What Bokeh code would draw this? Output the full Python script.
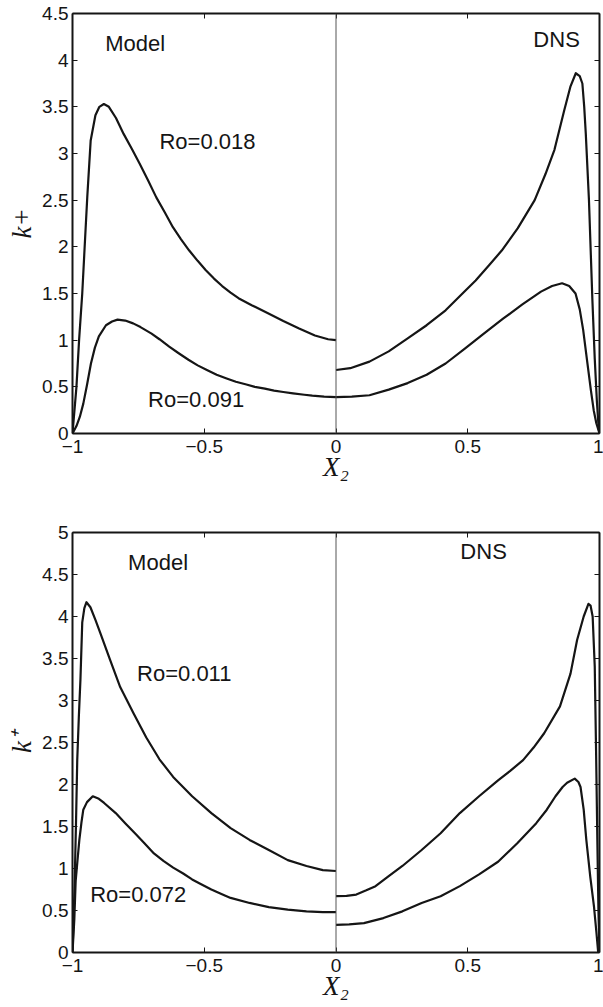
import math
from bokeh.plotting import figure
from bokeh.layouts import column
from bokeh.models import Range1d, LinearAxis, Span, Label, FixedTicker
from bokeh.embed import file_html
from bokeh.resources import INLINE

# ---------------- data: top panel ----------------
top_model_018_x = [-1.0, -0.985, -0.975, -0.963, -0.952, -0.944, -0.931, -0.913, -0.898, -0.881, -0.862, -0.835,
                   -0.806, -0.775, -0.745, -0.713, -0.682, -0.65, -0.619, -0.588, -0.557, -0.525, -0.494, -0.463,
                   -0.432, -0.40, -0.37, -0.32, -0.26, -0.20, -0.14, -0.08, -0.03, 0.0]
top_model_018_y = [0.0, 0.5, 1.0, 1.5, 2.1, 2.53, 3.14, 3.41, 3.50, 3.53, 3.50, 3.38,
                   3.21, 3.05, 2.89, 2.71, 2.53, 2.37, 2.21, 2.08, 1.96, 1.85, 1.75, 1.66,
                   1.58, 1.51, 1.45, 1.375, 1.29, 1.205, 1.125, 1.05, 1.01, 1.0]

top_model_091_x = [-1.0, -0.985, -0.972, -0.959, -0.945, -0.93, -0.915, -0.90, -0.873, -0.85, -0.829, -0.80,
                   -0.77, -0.742, -0.70, -0.67, -0.633, -0.597, -0.56, -0.525, -0.49, -0.453, -0.415, -0.38,
                   -0.34, -0.308, -0.27, -0.235, -0.2, -0.163, -0.12, -0.09, -0.045, 0.0]
top_model_091_y = [0.0, 0.08, 0.18, 0.32, 0.52, 0.75, 0.92, 1.04, 1.16, 1.20, 1.22, 1.21,
                   1.18, 1.14, 1.07, 1.01, 0.93, 0.86, 0.79, 0.73, 0.68, 0.63, 0.59, 0.555,
                   0.525, 0.50, 0.48, 0.46, 0.445, 0.43, 0.415, 0.405, 0.395, 0.39]

top_dns_018_x = [0.0, 0.054, 0.127, 0.2, 0.272, 0.344, 0.416, 0.48, 0.53, 0.58, 0.629, 0.69, 0.754, 0.795,
                 0.829, 0.866, 0.89, 0.91, 0.925, 0.935, 0.942, 0.948, 0.96, 0.973, 0.982, 0.99, 0.997, 1.0]
top_dns_018_y = [0.68, 0.70, 0.77, 0.88, 1.02, 1.16, 1.32, 1.50, 1.64, 1.80, 1.96, 2.2, 2.5, 2.78,
                 3.04, 3.46, 3.72, 3.86, 3.83, 3.75, 3.5, 3.21, 2.5, 1.43, 0.8, 0.35, 0.05, 0.0]

top_dns_091_x = [0.0, 0.06, 0.127, 0.2, 0.272, 0.344, 0.416, 0.489, 0.561, 0.634, 0.706, 0.778, 0.82, 0.858,
                 0.885, 0.909, 0.925, 0.938, 0.952, 0.967, 0.978, 0.988, 1.0]
top_dns_091_y = [0.39, 0.395, 0.41, 0.47, 0.54, 0.63, 0.75, 0.91, 1.07, 1.23, 1.38, 1.52, 1.58, 1.61,
                 1.58, 1.50, 1.33, 1.11, 0.8, 0.47, 0.25, 0.11, 0.0]

# ---------------- data: bottom panel ----------------
bot_model_011_x = [-1.0, -0.992, -0.987, -0.982, -0.976, -0.970, -0.963, -0.955, -0.947, -0.932, -0.913, -0.894,
                   -0.857, -0.819, -0.769, -0.72, -0.67, -0.618, -0.546, -0.473, -0.40, -0.328, -0.255, -0.183,
                   -0.112, -0.05, 0.0]
bot_model_011_y = [0.0, 0.8, 1.5, 2.29, 2.8, 3.24, 3.93, 4.10, 4.17, 4.11, 3.96, 3.80,
                   3.48, 3.16, 2.85, 2.56, 2.30, 2.09, 1.86, 1.66, 1.48, 1.34, 1.22, 1.10,
                   1.03, 0.98, 0.97]

bot_model_072_x = [-1.0, -0.993, -0.988, -0.981, -0.974, -0.966, -0.959, -0.945, -0.923, -0.90, -0.88, -0.836,
                   -0.80, -0.763, -0.727, -0.691, -0.655, -0.618, -0.58, -0.546, -0.51, -0.473, -0.437, -0.40,
                   -0.328, -0.255, -0.183, -0.112, -0.05, 0.0]
bot_model_072_y = [0.0, 0.4, 0.85, 1.1, 1.34, 1.55, 1.70, 1.79, 1.86, 1.83, 1.78, 1.66,
                   1.54, 1.42, 1.30, 1.18, 1.09, 1.01, 0.94, 0.87, 0.81, 0.75, 0.70, 0.65,
                   0.59, 0.54, 0.51, 0.49, 0.48, 0.48]

bot_dns_011_x = [0.0, 0.04, 0.077, 0.115, 0.15, 0.20, 0.252, 0.325, 0.397, 0.47, 0.543, 0.615, 0.66, 0.71,
                 0.75, 0.79, 0.85, 0.89, 0.915, 0.94, 0.958, 0.966, 0.974, 0.982, 0.987, 0.992, 0.996, 1.0]
bot_dns_011_y = [0.67, 0.675, 0.69, 0.74, 0.79, 0.91, 1.03, 1.22, 1.42, 1.66, 1.86, 2.05, 2.16, 2.29,
                 2.44, 2.61, 2.93, 3.32, 3.72, 4.0, 4.15, 4.13, 4.0, 3.4, 2.4, 1.3, 0.5, 0.0]

bot_dns_072_x = [0.0, 0.05, 0.106, 0.18, 0.252, 0.325, 0.397, 0.47, 0.543, 0.615, 0.688, 0.76, 0.80, 0.833,
                 0.86, 0.877, 0.906, 0.92, 0.928, 0.94, 0.95, 0.965, 0.979, 0.988, 0.995]
bot_dns_072_y = [0.33, 0.335, 0.35, 0.41, 0.49, 0.59, 0.67, 0.79, 0.93, 1.08, 1.30, 1.54, 1.70, 1.86,
                 1.97, 2.02, 2.07, 2.03, 1.97, 1.7, 1.34, 0.9, 0.55, 0.25, 0.0]

# ---------------- ticks and labels ----------------
x_ticks = [-1, -0.5, 0, 0.5, 1]
x_tick_labels = ["\u22121", "\u22120.5", "0", "0.5", "1"]
top_y_ticks = [0, 0.5, 1, 1.5, 2, 2.5, 3, 3.5, 4, 4.5]
top_y_tick_labels = ["0", "0.5", "1", "1.5", "2", "2.5", "3", "3.5", "4", "4.5"]
bot_y_ticks = [0, 0.5, 1, 1.5, 2, 2.5, 3, 3.5, 4, 4.5, 5]
bot_y_tick_labels = ["0", "0.5", "1", "1.5", "2", "2.5", "3", "3.5", "4", "4.5", "5"]
x_axis_title = "X\u2082"
top_y_axis_title = "k+"
bot_y_axis_title = "k\u207a"

SANS = "Liberation Sans"
SERIF = "Liberation Serif"
INK = "#151515"
TICK_FS = "19px"
ANN_FS = "22px"
TITLE_FS = "27px"


def style_axes(p, xt, xl, yt, yl, xtitle, ytitle):
    p.grid.visible = False
    p.outline_line_color = None
    p.background_fill_color = "white"
    p.border_fill_color = "white"
    main_axes = []
    for ax in p.xaxis:
        ax.ticker = FixedTicker(ticks=xt)
        ax.major_label_overrides = {t: l for t, l in zip(xt, xl)}
        ax.major_label_standoff = 6
        ax.axis_label = xtitle
        ax.axis_label_standoff = -4
        main_axes.append(ax)
    for ax in p.yaxis:
        ax.ticker = FixedTicker(ticks=yt)
        ax.major_label_overrides = {t: l for t, l in zip(yt, yl)}
        ax.major_label_standoff = 4
        ax.axis_label = ytitle
        ax.axis_label_standoff = 2
        main_axes.append(ax)
    for ax in main_axes:
        ax.major_label_text_font = SANS
        ax.major_label_text_font_size = TICK_FS
        ax.major_label_text_color = INK
        ax.axis_label_text_font = SERIF
        ax.axis_label_text_font_style = "italic"
        ax.axis_label_text_font_size = TITLE_FS
        ax.axis_label_text_color = INK
    # mirror axes: frame with inward ticks on the right and top, no labels
    right = LinearAxis(ticker=FixedTicker(ticks=yt),
                       major_label_overrides={t: "" for t in yt})
    above = LinearAxis(ticker=FixedTicker(ticks=xt),
                       major_label_overrides={t: "" for t in xt})
    for ax in (right, above):
        ax.major_label_text_color = None
        ax.major_label_standoff = 0
    p.add_layout(right, "right")
    p.add_layout(above, "above")
    for ax in main_axes + [right, above]:
        ax.axis_line_width = 2
        ax.axis_line_color = INK
        ax.major_tick_in = 5
        ax.major_tick_out = 0
        ax.major_tick_line_color = INK
        ax.major_tick_line_width = 1
        ax.minor_tick_line_color = None
    p.add_layout(Span(location=0, dimension="height", line_color="#555555", line_width=1))


def curves(p, pairs):
    for xs, ys in pairs:
        p.line(xs, ys, line_color=INK, line_width=2.2, line_join="round")


def ann(p, x, y, text):
    p.add_layout(Label(x=x, y=y, text=text, text_font=SANS, text_font_size=ANN_FS,
                       text_color=INK, text_align="left", text_baseline="middle"))


# ---------------- top figure ----------------
p1 = figure(width=603, height=488, x_range=Range1d(-1, 1), y_range=Range1d(0, 4.5),
            output_backend="svg", toolbar_location=None,
            min_border_left=65, min_border_right=4, min_border_top=13, min_border_bottom=55)
style_axes(p1, x_ticks, x_tick_labels, top_y_ticks, top_y_tick_labels, x_axis_title, top_y_axis_title)
curves(p1, [(top_model_018_x, top_model_018_y), (top_model_091_x, top_model_091_y),
            (top_dns_018_x, top_dns_018_y), (top_dns_091_x, top_dns_091_y)])
ann(p1, -0.876, 4.18, "Model")
ann(p1, -0.67, 3.13, "Ro=0.018")
ann(p1, 0.749, 4.22, "DNS")
ann(p1, -0.713, 0.36, "Ro=0.091")

# ---------------- bottom figure ----------------
p2 = figure(width=603, height=519, x_range=Range1d(-1, 1), y_range=Range1d(0, 5),
            output_backend="svg", toolbar_location=None,
            min_border_left=72, min_border_right=1, min_border_top=44, min_border_bottom=55)
style_axes(p2, x_ticks, x_tick_labels, bot_y_ticks, bot_y_tick_labels, x_axis_title, bot_y_axis_title)
curves(p2, [(bot_model_011_x, bot_model_011_y), (bot_model_072_x, bot_model_072_y),
            (bot_dns_011_x, bot_dns_011_y), (bot_dns_072_x, bot_dns_072_y)])
ann(p2, -0.789, 4.64, "Model")
ann(p2, -0.755, 3.32, "Ro=0.011")
ann(p2, 0.472, 4.77, "DNS")
ann(p2, -0.933, 0.69, "Ro=0.072")

layout = column(p1, p2, spacing=0)
open("out.html", "w").write(file_html(layout, INLINE))
